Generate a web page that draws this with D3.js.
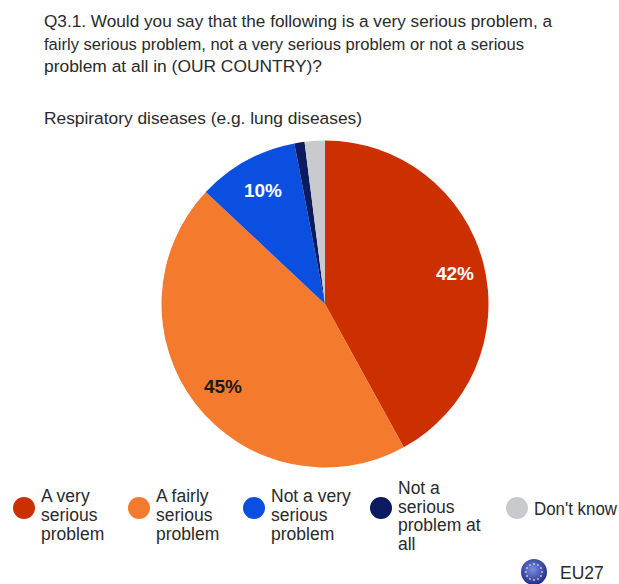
<!DOCTYPE html>
<html><head><meta charset="utf-8"><script src="https://cdn.jsdelivr.net/npm/d3@7"></script>
<style>html,body{margin:0;background:#fff}svg{display:block}text{font-family:"Liberation Sans",Arial,sans-serif;fill:#2a2a2a}</style></head>
<body><svg id="c" width="619" height="584"></svg>
<script>
const categories=["A very serious problem","A fairly serious problem","Not a very serious problem","Not a serious problem at all","Don't know"];
const values=[42,45,10,1,2];
const colors=["#cc3000","#f47a2e","#0b4fe0","#0c1a60","#c8cacd"];
const labels=["42%","45%","10%","",""];
const titleLines=["Q3.1. Would you say that the following is a very serious problem, a","fairly serious problem, not a very serious problem or not a serious","problem at all in (OUR COUNTRY)?"];
const subtitle="Respiratory diseases (e.g. lung diseases)";
const legendLines=[["A very","serious","problem"],["A fairly","serious","problem"],["Not a very","serious","problem"],["Not a","serious","problem at","all"],["Don't know"]];
const svg=d3.select("#c");
svg.append("g").selectAll("text").data(titleLines).join("text").attr("x",44).attr("y",(d,i)=>27+i*22.5).attr("font-size",17.2).attr("textLength",(d,i)=>[508,480,278][i]).attr("lengthAdjust","spacingAndGlyphs").text(d=>d);
svg.append("text").attr("x",44).attr("y",124).attr("font-size",17.2).attr("textLength",318).attr("lengthAdjust","spacingAndGlyphs").text(subtitle);
const pie=d3.pie().sort(null).value(d=>d)(values);
const arc=d3.arc().innerRadius(0).outerRadius(163.5);
const g=svg.append("g").attr("transform","translate(325,304)");
g.selectAll("path").data(pie).join("path").attr("d",arc).attr("fill",(d,i)=>colors[i]);
const labelPos=[[130,-31],[-102,82],[-62,-114]];
g.selectAll("text").data(labels.slice(0,3)).join("text").attr("x",(d,i)=>labelPos[i][0]).attr("y",(d,i)=>labelPos[i][1]).attr("text-anchor","middle").attr("dominant-baseline","central").attr("font-size",19).attr("font-weight","bold").style("fill",(d,i)=>i==1?"#1a1a1a":"#fff").text(d=>d);
const lx=[24,139,254,381,517],tx=[41,156,271,398,534];
const leg=svg.append("g");
categories.forEach((c,i)=>{
 leg.append("circle").attr("cx",lx[i]).attr("cy",508).attr("r",11).attr("fill",colors[i]);
 const t=leg.append("text").attr("font-size",17.5);
 legendLines[i].forEach((l,j)=>{
  const s=t.append("tspan").attr("x",tx[i]).attr("y",i==4?515:(i==3?494+j*18.7:502+j*19)).text(l);
  if(i==4)s.attr("textLength",83).attr("lengthAdjust","spacingAndGlyphs");
 });
});
const defs=svg.append("defs");
const grad=defs.append("radialGradient").attr("id","globe").attr("cx","45%").attr("cy","40%").attr("r","60%");
grad.append("stop").attr("offset","0%").attr("stop-color","#7f8fe0");
grad.append("stop").attr("offset","100%").attr("stop-color","#1c2a8f");
svg.append("circle").attr("cx",534).attr("cy",572).attr("r",13).attr("fill","url(#globe)");
const stars=d3.range(12).map(i=>i*30);
svg.append("g").selectAll("circle").data(stars).join("circle").attr("cx",d=>534+8*Math.cos(d*Math.PI/180)).attr("cy",d=>572+8*Math.sin(d*Math.PI/180)).attr("r",0.9).attr("fill","#d9d6a0");
svg.append("text").attr("x",560).attr("y",579).attr("font-size",17.5).text("EU27");
</script></body></html>
